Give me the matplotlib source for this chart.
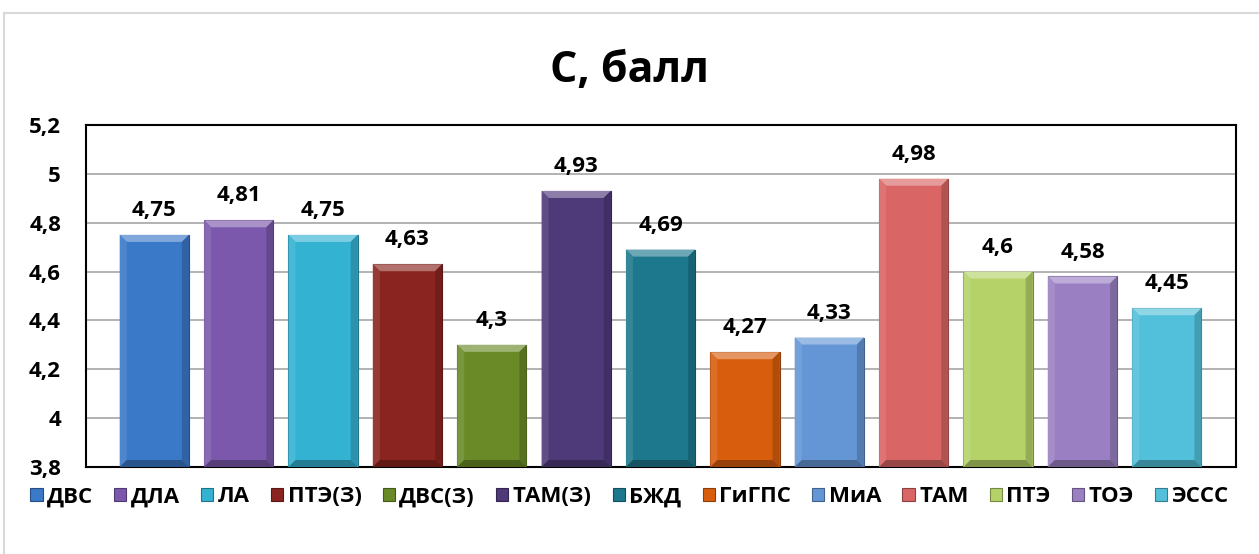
import matplotlib
matplotlib.use("Agg")
import matplotlib.pyplot as plt
from matplotlib.patches import Polygon, Rectangle
from matplotlib.colors import to_rgb
import numpy as np

categories = ["ДВС", "ДЛА", "ЛА", "ПТЭ(З)", "ДВС(З)", "ТАМ(З)", "БЖД",
              "ГиГПС", "МиА", "ТАМ", "ПТЭ", "ТОЭ", "ЭССС"]
values = [4.75, 4.81, 4.75, 4.63, 4.30, 4.93, 4.69, 4.27, 4.33, 4.98, 4.60, 4.58, 4.45]
labels = ["4,75", "4,81", "4,75", "4,63", "4,3", "4,93", "4,69", "4,27", "4,33",
          "4,98", "4,6", "4,58", "4,45"]
colors = ["#3A78C8", "#7B58AB", "#33B2D2", "#8A2420", "#6A8A28", "#4E3979", "#1D788E",
          "#D85E0E", "#6496D6", "#D96565", "#B5D268", "#9A80C2", "#52C0DA"]
yticks = [3.8, 4.0, 4.2, 4.4, 4.6, 4.8, 5.0, 5.2]
ytick_labels = ["3,8", "4", "4,2", "4,4", "4,6", "4,8", "5", "5,2"]

plt.rcParams['font.family'] = ['Open Sans', 'DejaVu Sans']
plt.rcParams['font.weight'] = 'bold'

W, H = 1259, 554
fig = plt.figure(figsize=(W / 100, H / 100), dpi=100)
fig.patch.set_facecolor("white")
# outer chart border
fig.add_artist(Rectangle((4 / W, -0.05), 1.1, 1 - 13 / H + 0.05, transform=fig.transFigure,
                         fill=False, edgecolor="#D9D9D9", linewidth=1.5))

left, right, top, bottom = 86, 1236, 125, 467
ax = fig.add_axes([left / W, 1 - bottom / H, (right - left) / W, (bottom - top) / H])
ax.set_ylim(3.8, 5.2)
ax.set_xlim(-0.81, 12.82)
ax.set_yticks(yticks)
ax.set_yticklabels(ytick_labels, fontsize=16, fontweight='bold')
ax.tick_params(axis='y', length=0, pad=18)
ax.set_xticks([])
ax.grid(axis='y', color="#A6A6A6", linewidth=1.2)
ax.set_axisbelow(True)
for s in ax.spines.values():
    s.set_color("black")
    s.set_linewidth(1.5)

bw = 0.82
px_x = (12.82 + 0.81) / (right - left)
px_y = 1.4 / (bottom - top)
bx = 7 * px_x
by = 7 * px_y


def shade(c, f):
    r = np.array(to_rgb(c))
    if f >= 0:
        return tuple(r + (1 - r) * f)
    return tuple(r * (1 + f))


handles = []
for i, (v, c, lab, cat) in enumerate(zip(values, colors, labels, categories)):
    x0, x1 = i - bw / 2, i + bw / 2
    y0, y1 = 3.8, v
    b = ax.bar(i, v - 3.8, bottom=3.8, width=bw, color=c, edgecolor=shade(c, -0.35),
               linewidth=0.8, label=cat, zorder=3)
    handles.append(b)
    # bevel facets
    ax.add_patch(Polygon([(x0, y1), (x1, y1), (x1 - bx, y1 - by), (x0 + bx, y1 - by)],
                         closed=True, facecolor=shade(c, 0.35), edgecolor='none', zorder=4))
    ax.add_patch(Polygon([(x0, y1), (x0 + bx, y1 - by), (x0 + bx, y0 + by), (x0, y0)],
                         closed=True, facecolor=shade(c, 0.1), edgecolor='none', zorder=4))
    ax.add_patch(Polygon([(x1, y1), (x1 - bx, y1 - by), (x1 - bx, y0 + by), (x1, y0)],
                         closed=True, facecolor=shade(c, -0.18), edgecolor='none', zorder=4))
    ax.add_patch(Polygon([(x0, y0), (x0 + bx, y0 + by), (x1 - bx, y0 + by), (x1, y0)],
                         closed=True, facecolor=shade(c, -0.3), edgecolor='none', zorder=4))
    ax.annotate(lab, (i, v), xytext=(0, 10), textcoords='offset points', ha='center',
                va='bottom', fontsize=16, fontweight='bold', zorder=5)

fig.text(0.5, 1 - 71 / H, "С, балл", ha='center', va='center', fontsize=31, fontweight='bold')

leg = fig.legend(handles=handles, labels=categories, loc='center', ncol=13,
                 bbox_to_anchor=(0.5, 1 - 497 / H), frameon=False,
                 prop={'size': 16, 'weight': 'bold'}, handlelength=0.55, handleheight=0.55,
                 handletextpad=0.2, columnspacing=0.95, borderaxespad=0)

fig.savefig("out.png", dpi=100)
